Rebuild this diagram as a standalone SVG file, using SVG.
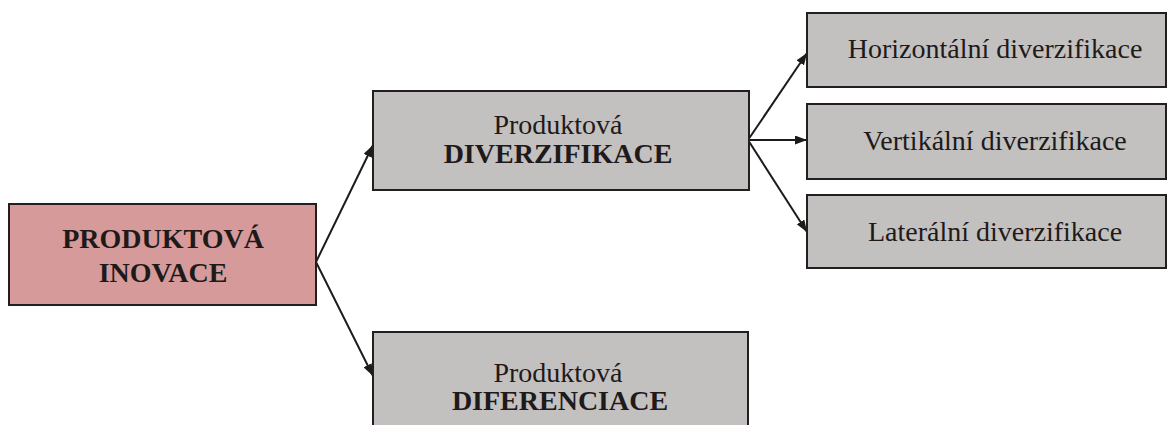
<svg xmlns="http://www.w3.org/2000/svg" width="1169" height="425" viewBox="0 0 1169 425">
  <defs>
    <marker id="arrow" viewBox="0 0 12 9" refX="12" refY="4.5" markerWidth="12" markerHeight="9" markerUnits="userSpaceOnUse" orient="auto">
      <path d="M0,0 L12,4.5 L0,9 Z" fill="#1e1a1a"/>
    </marker>
    <style>
      .box { stroke: #231f20; stroke-width: 2; }
      .root { fill: #d69a9a; }
      .grey { fill: #c3c0c0; }
      text { font-family: 'Liberation Serif', 'Times New Roman', serif; fill: #1e1a1a; text-anchor: middle; font-size: 28px; }
      .bold { font-weight: bold; }
      .link { stroke: #1e1a1a; stroke-width: 2; fill: none; marker-end: url(#arrow); }
    </style>
  </defs>
  <rect width="1169" height="425" fill="#ffffff"/>

  <!-- connectors -->
  <g id="connectors">
    <line class="link" x1="316" y1="262" x2="373" y2="145"/>
    <line class="link" x1="316" y1="262" x2="373" y2="376"/>
    <line class="link" x1="748" y1="140" x2="807" y2="53"/>
    <line class="link" x1="748" y1="140" x2="807" y2="140"/>
    <line class="link" x1="748" y1="140" x2="807" y2="232"/>
  </g>

  <g id="produktova-inovace" font-family="Liberation Serif, serif">
    <rect class="box root" x="9" y="204" width="307" height="101"/>
    <text class="bold" x="163" y="248">PRODUKTOVÁ</text>
    <text class="bold" x="163" y="282">INOVACE</text>
  </g>

  <g id="produktova-diverzifikace" font-family="Liberation Serif, serif">
    <rect class="box grey" x="373" y="91" width="376" height="99"/>
    <text x="558" y="134">Produktová</text>
    <text class="bold" x="558" y="163">DIVERZIFIKACE</text>
  </g>

  <g id="horizontalni" font-family="Liberation Serif, serif">
    <rect class="box grey" x="807" y="13" width="359" height="74"/>
    <text x="995" y="58">Horizontální diverzifikace</text>
  </g>

  <g id="vertikalni" font-family="Liberation Serif, serif">
    <rect class="box grey" x="807" y="104" width="359" height="75"/>
    <text x="995" y="150">Vertikální diverzifikace</text>
  </g>

  <g id="lateralni" font-family="Liberation Serif, serif">
    <rect class="box grey" x="807" y="195" width="359" height="73"/>
    <text x="995" y="241">Laterální diverzifikace</text>
  </g>

  <g id="produktova-diferenciace" font-family="Liberation Serif, serif">
    <rect class="box grey" x="373" y="332" width="375" height="110"/>
    <text x="558" y="382">Produktová</text>
    <text class="bold" x="560" y="410">DIFERENCIACE</text>
  </g>
</svg>
